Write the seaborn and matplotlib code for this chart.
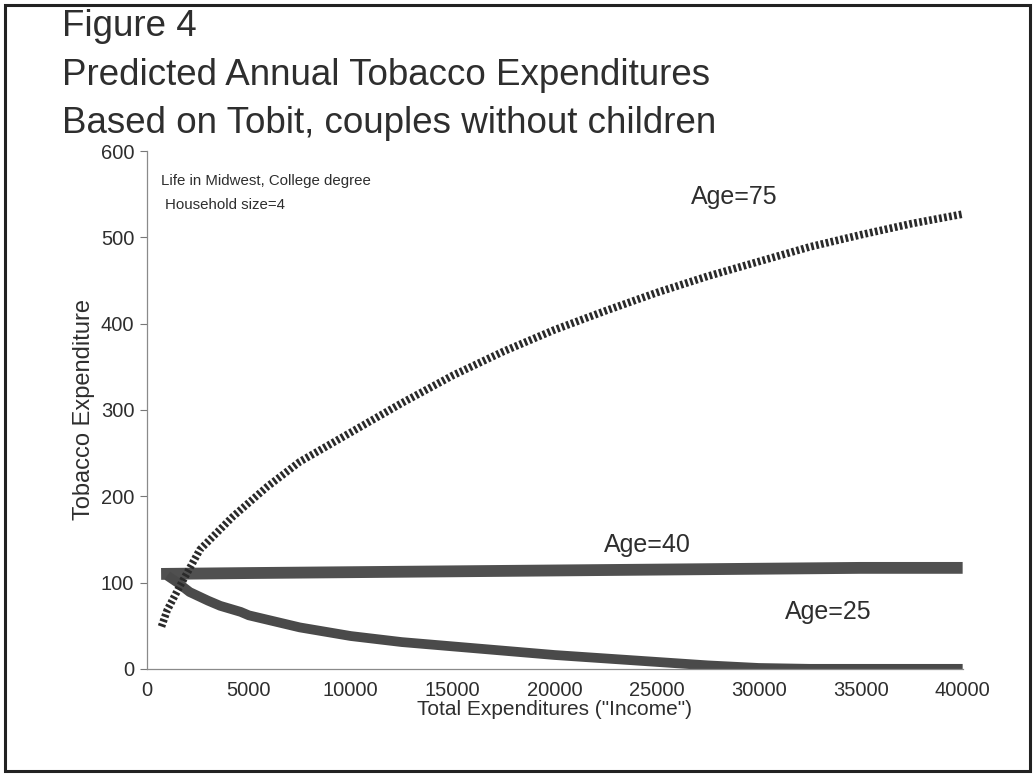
import numpy as np
import pandas as pd
import matplotlib.pyplot as plt
import seaborn as sns
from matplotlib.patches import Rectangle

# ── Data ───────────────────────────────────────────────────
income_75 = [720, 1000, 1600, 2600, 4200, 5900, 7500, 10000, 12500, 15000,
             17500, 20000, 22500, 25000, 27500, 30000, 32500, 35000, 37500, 40000]
spend_75 = [49, 68, 95, 138, 176, 211, 240, 274, 308, 340,
            368, 393, 415, 436, 455, 472, 489, 503, 516, 527]

income_40 = [700, 5000, 10000, 15000, 20000, 25000, 30000, 35000, 40000]
spend_40 = [110, 111, 112, 113, 114, 115, 116, 117, 117]

income_25 = [1000, 1500, 2100, 3000, 3600, 4600, 5000, 7500, 10000, 12500, 15000,
             17500, 20000, 22500, 25000, 27500, 30000, 32500, 35000, 40000]
spend_25 = [108, 100, 89, 79, 73, 66, 62, 48, 38, 31, 26,
            21, 16, 12, 8, 4, 1, 0, 0, 0]

x_ticks = [0, 5000, 10000, 15000, 20000, 25000, 30000, 35000, 40000]
y_ticks = [0, 100, 200, 300, 400, 500, 600]

# ── Style ──────────────────────────────────────────────────
sns.set_style("white")
plt.rcParams["font.family"] = ["Liberation Sans", "DejaVu Sans"]
txt = "#2e2e2e"

fig = plt.figure(figsize=(10.34, 7.75), dpi=100)
ax = fig.add_axes([0.142, 0.137, 0.789, 0.668])

# ── Lines ──────────────────────────────────────────────────
sns.lineplot(x=income_40, y=spend_40, ax=ax, color="#505050", lw=8.5,
             solid_capstyle="butt")
sns.lineplot(x=income_25, y=spend_25, ax=ax, color="#4a4a4a", lw=7,
             solid_capstyle="butt")
sns.lineplot(x=income_75, y=spend_75, ax=ax, color="#2a2a2a", lw=5.5,
             linestyle=(0, (0.36, 0.3)), dash_capstyle="butt")

# ── Axes ───────────────────────────────────────────────────
ax.set_xlim(0, 40000)
ax.set_ylim(0, 600)
ax.set_xticks(x_ticks)
ax.set_yticks(y_ticks)
ax.tick_params(axis="both", labelsize=14.5, colors=txt, length=5,
               width=0.8, direction="out")
ax.tick_params(axis="x", length=0, pad=9)
ax.tick_params(axis="y", left=True, color="#777777", pad=4)
for s in ["top", "right"]:
    ax.spines[s].set_visible(False)
for s in ["left", "bottom"]:
    ax.spines[s].set_color("#8a8a8a")
    ax.spines[s].set_linewidth(0.9)

ax.set_xlabel('Total Expenditures ("Income")', fontsize=15, color=txt,
              labelpad=0)
ax.set_ylabel("Tobacco Expenditure", fontsize=17, color=txt, labelpad=4)

# ── Annotations ────────────────────────────────────────────
ax.text(700, 565, "Life in Midwest, College degree", fontsize=10.8,
        color=txt, va="center")
ax.text(900, 537, "Household size=4", fontsize=10.8, color=txt, va="center")
ax.text(26700, 547, "Age=75", fontsize=18, color=txt, va="center")
ax.text(22400, 144, "Age=40", fontsize=18, color=txt, va="center")
ax.text(31300, 66, "Age=25", fontsize=18, color=txt, va="center")

# ── Title block ────────────────────────────────────────────
fig.text(0.060, 0.953, "Figure 4", fontsize=26.5, color=txt, va="baseline")
fig.text(0.060, 0.890, "Predicted Annual Tobacco Expenditures",
         fontsize=26.5, color=txt, va="baseline")
fig.text(0.060, 0.828, "Based on Tobit, couples without children",
         fontsize=26.5, color=txt, va="baseline")

# ── Outer frame ────────────────────────────────────────────
fig.patches.append(Rectangle((0.005, 0.005), 0.991, 0.988, fill=False,
                             lw=2.2, edgecolor="#222222",
                             transform=fig.transFigure, figure=fig))

fig.savefig("out.png", dpi=100)
